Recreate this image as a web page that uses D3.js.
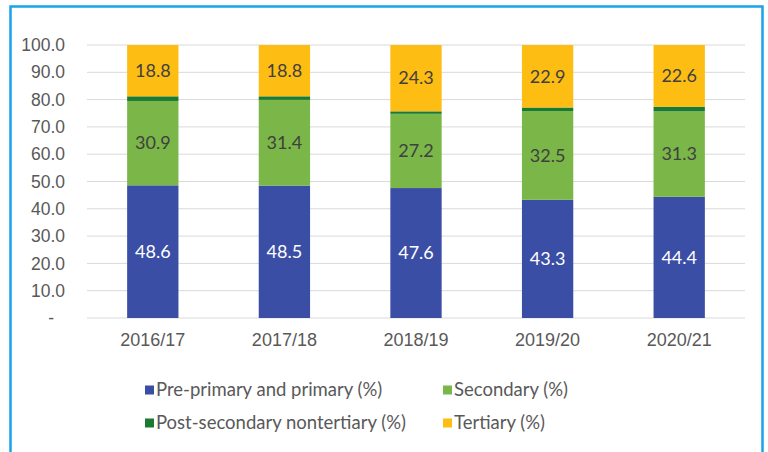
<!DOCTYPE html>
<html>
<head>
<meta charset="utf-8">
<script src="https://cdn.jsdelivr.net/npm/d3@7"></script>
<style>
  body { margin: 0; background: #fff; }
  svg { display: block; font-family: "Lato", "Noto Sans", sans-serif; }
</style>
</head>
<body>
<div id="chart"></div>
<script>
const years = ["2016/17", "2017/18", "2018/19", "2019/20", "2020/21"];
const prePrimary = [48.6, 48.5, 47.6, 43.3, 44.4];
const secondary = [30.9, 31.4, 27.2, 32.5, 31.3];
const postSecondary = [1.7, 1.3, 0.9, 1.3, 1.7];
const tertiary = [18.8, 18.8, 24.3, 22.9, 22.6];
const yTicks = [0, 10, 20, 30, 40, 50, 60, 70, 80, 90, 100];

const seriesNames = ["Pre-primary and primary (%)", "Secondary (%)", "Post-secondary nontertiary (%)", "Tertiary (%)"];
const seriesColors = ["#3b4ea6", "#7ab648", "#1b7a32", "#fdbd12"];
const showLabel = [true, true, false, true];
const labelColors = ["#ffffff", "#404040", "#404040", "#404040"];

const width = 768, height = 452;
const margin = { top: 45, right: 23, bottom: 134, left: 87 };

const rows = years.map((y, i) => ({
    year: y,
    s0: prePrimary[i], s1: secondary[i], s2: postSecondary[i], s3: tertiary[i]
}));

const svg = d3.select("#chart")
    .append("svg")
    .attr("width", width)
    .attr("height", height);

// frame
svg.append("rect")
    .attr("x", 10.5).attr("y", 6.5)
    .attr("width", 752).attr("height", 460)
    .attr("fill", "none")
    .attr("stroke", "#1aa3ea")
    .attr("stroke-width", 2.5);

const x = d3.scaleBand()
    .domain(years)
    .range([margin.left, width - margin.right])
    .paddingInner(0.61)
    .paddingOuter(0.305);

const y = d3.scaleLinear()
    .domain([0, 100])
    .range([height - margin.bottom, margin.top]);

// gridlines
svg.append("g")
    .selectAll("line")
    .data(yTicks)
    .enter()
    .append("line")
    .attr("x1", margin.left)
    .attr("x2", width - margin.right)
    .attr("y1", d => y(d))
    .attr("y2", d => y(d))
    .attr("stroke", "#d9d9d9")
    .attr("stroke-width", 1);

// y axis
const yAxis = svg.append("g")
    .attr("transform", `translate(${margin.left - 8},0)`)
    .call(d3.axisLeft(y).tickValues(yTicks).tickSize(0).tickPadding(14)
        .tickFormat(d => d === 0 ? "-" : d3.format(".1f")(d)));
yAxis.select(".domain").remove();
yAxis.selectAll("text")
    .style("font-size", "17.5px")
    .style("fill", "#595959");
yAxis.selectAll(".tick text").filter(d => d === 0).attr("dx", -11);

// x axis
const xAxis = svg.append("g")
    .attr("transform", `translate(0,${height - margin.bottom})`)
    .call(d3.axisBottom(x).tickSize(0).tickPadding(15));
xAxis.select(".domain").remove();
xAxis.selectAll("text")
    .style("font-size", "18px")
    .style("fill", "#595959");

// stacked bars
const stack = d3.stack().keys(["s0", "s1", "s2", "s3"]);
const stacked = stack(rows);

const layers = svg.selectAll(".layer")
    .data(stacked)
    .enter()
    .append("g")
    .attr("fill", (d, i) => seriesColors[i]);

layers.selectAll("rect")
    .data(d => d)
    .enter()
    .append("rect")
    .attr("x", d => x(d.data.year))
    .attr("width", x.bandwidth())
    .attr("y", d => y(d[1]))
    .attr("height", d => y(d[0]) - y(d[1]));

// value labels
stacked.forEach((layer, i) => {
    if (!showLabel[i]) return;
    svg.append("g")
        .selectAll("text")
        .data(layer)
        .enter()
        .append("text")
        .attr("x", d => x(d.data.year) + x.bandwidth() / 2)
        .attr("y", d => (y(d[0]) + y(d[1])) / 2)
        .attr("dy", "0.35em")
        .attr("text-anchor", "middle")
        .style("font-size", "18px")
        .style("fill", labelColors[i])
        .text(d => d3.format(".1f")(d.data["s" + i]));
});

// legend
const legendPos = [
    { x: 145, y: 390 },
    { x: 443, y: 390 },
    { x: 145, y: 423 },
    { x: 443, y: 423 }
];
const legend = svg.append("g")
    .selectAll("g")
    .data(seriesNames)
    .enter()
    .append("g")
    .attr("transform", (d, i) => `translate(${legendPos[i].x},${legendPos[i].y})`);

legend.append("rect")
    .attr("x", 0).attr("y", -4.5)
    .attr("width", 9).attr("height", 9)
    .attr("fill", (d, i) => seriesColors[i]);

legend.append("text")
    .attr("x", 11)
    .attr("y", 0)
    .attr("dy", "0.35em")
    .style("font-size", "18.5px")
    .style("fill", "#595959")
    .text(d => d);
</script>
</body>
</html>
